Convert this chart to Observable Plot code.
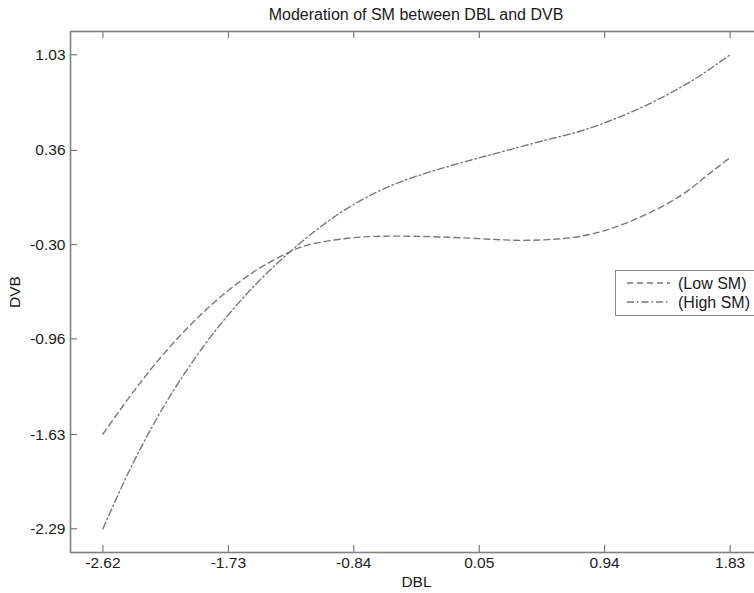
<!DOCTYPE html>
<html><head><meta charset="utf-8">
<script src="https://cdn.jsdelivr.net/npm/d3@7"></script>
<script src="https://cdn.jsdelivr.net/npm/@observablehq/plot@0.6"></script>
<style>
html,body{margin:0;padding:0;background:#fff;overflow:hidden;width:754px;height:593px;}
#wrap{position:relative;width:754px;height:593px;overflow:hidden;font-family:"Liberation Sans",Arial,Helvetica,sans-serif;color:#1a1a1a;}
#title{position:absolute;left:70px;width:692px;top:6px;text-align:center;font-size:16px;line-height:18px;white-space:nowrap;}
#chart{position:absolute;left:0;top:28px;}
#chart svg{max-width:none !important;}
#legend{position:absolute;left:615px;top:270px;}
</style></head><body>
<div id="wrap"><div id="title"></div><div id="chart"></div><div id="legend"></div></div>
<script>
const title = "Moderation of SM between DBL and DVB";
const xLabel = "DBL";
const yLabel = "DVB";
const xTicks = [-2.62, -1.73, -0.84, 0.05, 0.94, 1.83];
const yTicks = [-2.29, -1.63, -0.96, -0.30, 0.36, 1.03];
const seriesNames = ["(Low SM)", "(High SM)"];

const dblLow  = [-2.62, -2.473, -2.331, -2.189, -2.047, -1.905, -1.763, -1.621, -1.479, -1.288, -1.125, -0.883, -0.649, -0.415, -0.174, 0.060, 0.295, 0.536, 0.770, 1.004, 1.245, 1.479, 1.657, 1.83];
const dvbLow  = [-1.626, -1.423, -1.236, -1.065, -0.910, -0.771, -0.647, -0.539, -0.447, -0.347, -0.293, -0.255, -0.241, -0.241, -0.248, -0.258, -0.269, -0.265, -0.241, -0.181, -0.083, 0.043, 0.177, 0.310];
const dblHigh = [-2.62, -2.473, -2.331, -2.189, -2.047, -1.905, -1.763, -1.621, -1.479, -1.337, -1.196, -1.054, -0.883, -0.649, -0.415, -0.174, 0.060, 0.295, 0.536, 0.770, 1.004, 1.245, 1.479, 1.657, 1.83];
const dvbHigh = [-2.29, -1.967, -1.686, -1.434, -1.211, -1.010, -0.830, -0.668, -0.521, -0.389, -0.268, -0.159, -0.044, 0.081, 0.173, 0.247, 0.311, 0.373, 0.436, 0.496, 0.578, 0.681, 0.802, 0.910, 1.03];

const lowRows = dblLow.map((d, i) => ({dbl: d, dvb: dvbLow[i]}));
const highRows = dblHigh.map((d, i) => ({dbl: d, dvb: dvbHigh[i]}));

const W = 770, H = 565, mL = 70, mR = 8, mT = 3, mB = 41;
const plotW = W - mL - mR, plotH = H - mT - mB;
const tickLen = 7;
const lineColor = "#787878";
const dashes = ["6,4", "7,3,1.5,3"];
const fontFamily = '"Liberation Sans", Arial, Helvetica, sans-serif';
const fmt = d => d.toFixed(2);

document.getElementById("title").textContent = title;

const chart = Plot.plot({
  width: W, height: H,
  marginLeft: mL, marginRight: mR, marginTop: mT, marginBottom: mB,
  style: {fontFamily, fontSize: "15.5px", color: "#1a1a1a", background: "white", maxWidth: "none"},
  x: {domain: [-2.85, 2.06]},
  y: {domain: [-2.456, 1.193]},
  marks: [
    Plot.line(lowRows, {x: "dbl", y: "dvb", stroke: lineColor, strokeWidth: 1.4, strokeDasharray: dashes[0], curve: "natural"}),
    Plot.line(highRows, {x: "dbl", y: "dvb", stroke: lineColor, strokeWidth: 1.4, strokeDasharray: dashes[1], curve: "natural"}),
    Plot.tickX(xTicks, {x: d => d, stroke: "#606060", insetTop: plotH - tickLen}),
    Plot.tickX(xTicks, {x: d => d, stroke: "#606060", insetBottom: plotH - tickLen}),
    Plot.tickY(yTicks, {y: d => d, stroke: "#606060", insetRight: plotW - tickLen}),
    Plot.tickY(yTicks, {y: d => d, stroke: "#606060", insetLeft: plotW - tickLen}),
    Plot.frame({stroke: "#808080", strokeWidth: 1.6}),
    Plot.axisX(xTicks, {tickSize: 0, tickPadding: 4, tickFormat: fmt, label: xLabel, labelAnchor: "center", labelArrow: "none", labelOffset: 34}),
    Plot.axisY(yTicks, {tickSize: 0, tickPadding: 5, tickFormat: fmt, label: yLabel, labelAnchor: "center", labelArrow: "none", labelOffset: 62})
  ]
});
document.getElementById("chart").appendChild(chart);

const leg = d3.create("svg").attr("width", 150).attr("height", 46)
  .style("font-family", fontFamily).style("font-size", "16px");
leg.append("rect").attr("x", 0.5).attr("y", 0.5).attr("width", 149).attr("height", 45)
  .attr("fill", "white").attr("stroke", "#8a8a8a");
seriesNames.forEach((name, i) => {
  const yy = 13 + i * 19;
  leg.append("line").attr("x1", 12).attr("x2", 55).attr("y1", yy).attr("y2", yy)
    .attr("stroke", lineColor).attr("stroke-width", 1.4).attr("stroke-dasharray", dashes[i]);
  leg.append("text").attr("x", 63).attr("y", yy).attr("dy", "0.35em").attr("fill", "#1a1a1a").text(name);
});
document.getElementById("legend").appendChild(leg.node());
</script>
</body></html>
